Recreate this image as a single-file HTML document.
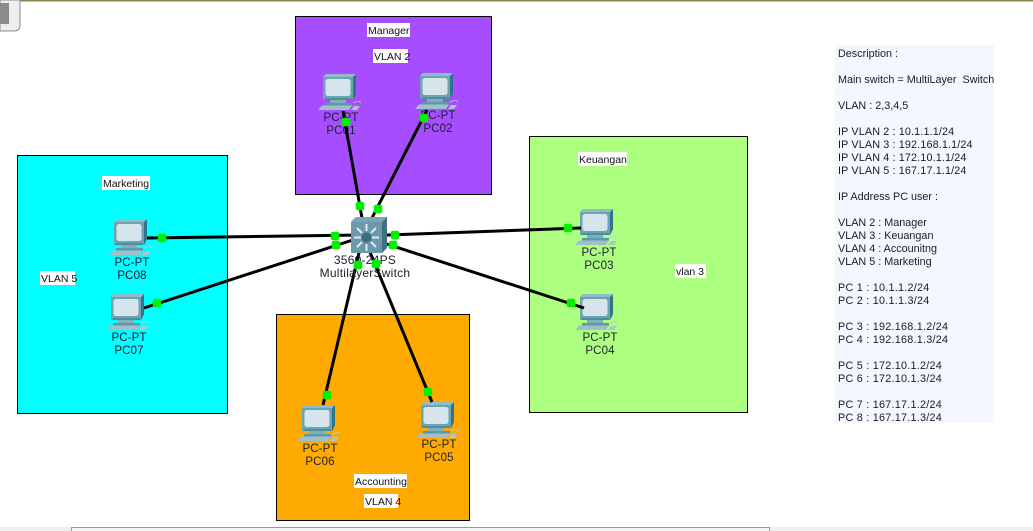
<!DOCTYPE html>
<html><head><meta charset="utf-8"><style>
html,body{margin:0;padding:0;background:#fff;width:1033px;height:531px;overflow:hidden}
svg{display:block}
.p{font:11.5px "Liberation Sans",sans-serif;fill:#20202e;text-anchor:middle;letter-spacing:.1px}
.s{font:12px "Liberation Sans",sans-serif;fill:#20202e;text-anchor:middle;letter-spacing:.25px}
.t{font:10.5px "Liberation Sans",sans-serif;fill:#111}
.d{font:10.8px "Liberation Sans",sans-serif;fill:#1a1a2a}
.n{letter-spacing:.13px}
.m{letter-spacing:.25px}
.l{stroke:#000;stroke-width:3;fill:none}
.g{fill:#00f000;stroke:#00f000;stroke-width:.6}
</style></head><body>
<svg width="1033" height="531" viewBox="0 0 1033 531" xmlns="http://www.w3.org/2000/svg">
<defs>
<g id="pc">
<path d="M0 3 L3 0 H33 V20 L30 26 H0Z" fill="#5f9aa8"/>
<path d="M30 3 L33 0 V20 L30 26Z" fill="#2f7488"/>
<path d="M0 3 L3 0 H33 L30 3Z" fill="#8fbcc8"/>
<rect x="0" y="3" width="30" height="22" fill="#6ea3b2"/>
<rect x="2.500" y="5" width="25" height="17" rx="2.500" fill="#d6e4ec"/>
<rect x="2" y="24" width="27" height="2" fill="#4f8c9e"/>
<rect x="7" y="26" width="16" height="3" fill="#7fb0bb"/>
<rect x="2" y="29" width="27" height="2.500" fill="#5f98a8"/>
<path d="M-1 31.500 H29 L26 36 H-5Z" fill="#9fbfca"/>
<path d="M31 32 H37 L34 36 H28Z" fill="#aac6cf"/>
<path d="M30 29 Q36 26 38 29" fill="none" stroke="#b8cdd2" stroke-width=".8"/>
</g>
</defs>
<rect x="0" y="0" width="1033" height="1.500" fill="#8c8448"/>
<path d="M0 0 H20 V25 Q20 31 14 31 H0Z" fill="#eeeeee" stroke="#8a8a8a"/>
<rect x="0" y="3" width="9" height="21" fill="#8b8b8b"/>
<rect x="0" y="527" width="1033" height="4" fill="#efefef"/>
<rect x="71.500" y="527.500" width="698" height="5" fill="#f3f3f3" stroke="#999"/>

<rect x="295.500" y="16.500" width="196" height="178" fill="#a64dff" stroke="#000"/>
<rect x="529.500" y="136.500" width="218" height="276" fill="#adff80" stroke="#000"/>
<rect x="17.500" y="155.500" width="210" height="258" fill="#00ffff" stroke="#000"/>
<rect x="276.500" y="314.500" width="193" height="206" fill="#ffaa00" stroke="#000"/>

<g fill="#fff">
<rect x="367" y="23" width="43" height="14"/><rect x="373" y="49" width="35" height="14"/>
<rect x="102" y="176" width="48" height="14"/><rect x="40" y="271" width="35" height="14"/>
<rect x="578" y="152" width="49" height="14"/><rect x="675" y="264" width="31" height="14"/>
<rect x="354" y="474" width="53" height="14"/><rect x="364" y="494" width="34" height="14"/>
</g>
<text class="t" x="368" y="34">Manager</text><text class="t" x="374" y="60">VLAN 2</text>
<text class="t" x="103" y="187">Marketing</text><text class="t" x="41" y="282">VLAN 5</text>
<text class="t" x="579" y="163">Keuangan</text><text class="t" x="676" y="275">vlan 3</text>
<text class="t" x="355" y="485">Accounting</text><text class="t" x="365" y="505">VLAN 4</text>

<use href="#pc" x="323" y="74"/><use href="#pc" x="420" y="73"/>
<use href="#pc" x="580" y="209"/><use href="#pc" x="580" y="294"/>
<use href="#pc" x="421" y="402"/><use href="#pc" x="302" y="405"/>
<use href="#pc" x="111" y="294"/><use href="#pc" x="114" y="219"/>

<text class="p" x="341" y="121">PC-PT</text><text class="p" x="341" y="134">PC01</text>
<text class="p" x="438" y="119">PC-PT</text><text class="p" x="438" y="132">PC02</text>
<text class="p" x="599" y="256">PC-PT</text><text class="p" x="599" y="269">PC03</text>
<text class="p" x="600" y="341">PC-PT</text><text class="p" x="600" y="354">PC04</text>
<text class="p" x="439" y="448">PC-PT</text><text class="p" x="439" y="461">PC05</text>
<text class="p" x="320" y="452">PC-PT</text><text class="p" x="320" y="465">PC06</text>
<text class="p" x="129" y="341">PC-PT</text><text class="p" x="129" y="354">PC07</text>
<text class="p" x="132" y="266">PC-PT</text><text class="p" x="132" y="279">PC08</text>

<line class="l" x1="343" y1="111" x2="362" y2="218"/>
<line class="l" x1="427" y1="110" x2="372" y2="218"/>
<line class="l" x1="147" y1="238" x2="362" y2="235"/>
<line class="l" x1="144" y1="308" x2="362" y2="237"/>
<line class="l" x1="362" y1="236" x2="581" y2="228"/>
<line class="l" x1="362" y1="236" x2="584" y2="308"/>
<line class="l" x1="365" y1="240" x2="432" y2="402"/>
<line class="l" x1="362" y1="240" x2="323" y2="405"/>

<g transform="translate(351,217)">
<path d="M0 5 L5 0 H36 V31 L31 36 H0Z" fill="#3f7186"/>
<path d="M0 5 L5 0 H36 L31 5Z" fill="#7ba5b5"/>
<rect x="0" y="5" width="31" height="31" fill="#6b98aa"/>
<g stroke="#dfeaf0" stroke-width="2">
<line x1="15.500" y1="7" x2="15.500" y2="14"/><line x1="15.500" y1="27" x2="15.500" y2="34"/>
<line x1="3" y1="20.500" x2="10" y2="20.500"/><line x1="21" y1="20.500" x2="28" y2="20.500"/>
<line x1="6" y1="11" x2="11" y2="16"/><line x1="20" y1="25" x2="25" y2="30"/>
<line x1="25" y1="11" x2="20" y2="16"/><line x1="11" y1="25" x2="6" y2="30"/>
</g>
<circle cx="15.500" cy="20.500" r="5" fill="#3d6b80"/>
</g>
<text class="s" x="365" y="264">3560-24PS</text>
<text class="s" x="365" y="277">MultilayerSwitch</text>

<g class="g">
<rect x="342" y="118" width="8" height="8" rx="2"/><rect x="420" y="114" width="8" height="8" rx="2"/>
<rect x="356" y="202" width="8" height="8" rx="2"/><rect x="374" y="205" width="8" height="8" rx="2"/>
<rect x="158" y="234" width="8" height="8" rx="2"/><rect x="153" y="299" width="8" height="8" rx="2"/>
<rect x="331" y="232" width="8" height="8" rx="2"/><rect x="332" y="241" width="8" height="8" rx="2"/>
<rect x="391" y="231" width="8" height="8" rx="2"/><rect x="389" y="241" width="8" height="8" rx="2"/>
<rect x="564" y="224" width="8" height="8" rx="2"/><rect x="567" y="299" width="8" height="8" rx="2"/>
<rect x="354" y="261" width="8" height="8" rx="2"/><rect x="372" y="260" width="8" height="8" rx="2"/>
<rect x="323" y="391" width="8" height="8" rx="2"/><rect x="424" y="388" width="8" height="8" rx="2"/>
</g>

<rect x="835" y="45" width="159" height="378" fill="#f5f7ff"/>
<g class="d">
<text x="838" y="57">Description :</text>
<text x="838" y="83">Main switch = MultiLayer &#160;Switch</text>
<text x="838" y="109">VLAN : 2,3,4,5</text>
<text class="n" x="838" y="135">IP VLAN 2 : 10.1.1.1/24</text>
<text class="n" x="838" y="148">IP VLAN 3 : 192.168.1.1/24</text>
<text class="n" x="838" y="161">IP VLAN 4 : 172.10.1.1/24</text>
<text class="n" x="838" y="174">IP VLAN 5 : 167.17.1.1/24</text>
<text x="838" y="200">IP Address PC user :</text>
<text x="838" y="226">VLAN 2 : Manager</text>
<text x="838" y="239">VLAN 3 : Keuangan</text>
<text x="838" y="252">VLAN 4 : Accounitng</text>
<text x="838" y="265">VLAN 5 : Marketing</text>
<text class="m" x="838" y="291">PC 1 : 10.1.1.2/24</text>
<text class="m" x="838" y="304">PC 2 : 10.1.1.3/24</text>
<text class="m" x="838" y="330">PC 3 : 192.168.1.2/24</text>
<text class="m" x="838" y="343">PC 4 : 192.168.1.3/24</text>
<text class="m" x="838" y="369">PC 5 : 172.10.1.2/24</text>
<text class="m" x="838" y="382">PC 6 : 172.10.1.3/24</text>
<text class="m" x="838" y="408">PC 7 : 167.17.1.2/24</text>
<text class="m" x="838" y="421">PC 8 : 167.17.1.3/24</text>
</g>
</svg>
</body></html>
